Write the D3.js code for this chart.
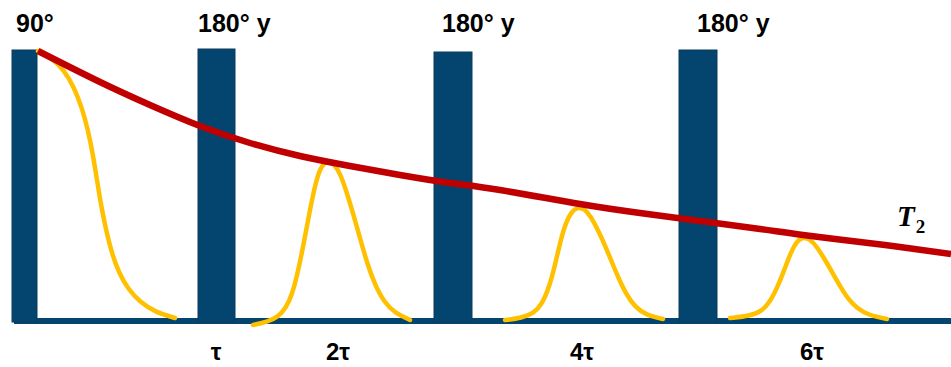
<!DOCTYPE html>
<html>
<head>
<meta charset="utf-8">
<script src="https://cdn.jsdelivr.net/npm/d3@7"></script>
<style>
  html, body { margin: 0; padding: 0; background: #fff; }
  svg { display: block; }
</style>
</head>
<body>
<svg id="chart" width="951" height="367"></svg>
<script>
// ---- Data (time axis in arbitrary units, signal = height above baseline) ----
const pulseLabels = ["90°", "180° y", "180° y", "180° y"];
const pulseStart  = [12, 198, 434, 679];
const pulseEnd    = [37, 235, 472, 717];
const pulseAmp    = [270, 271, 268, 270];
const pulseLabelT = [16, 198, 442, 697];

const echoLabels = ["τ", "2τ", "4τ", "6τ"];
const echoLabelT = [216, 338, 582, 812];

// T2 envelope (time, amplitude)
const t2Time = [38, 100, 150, 200, 250, 300, 350, 400, 450, 500, 580, 640, 700, 760, 803, 860, 900, 951];
const t2Amp  = [269, 238, 215, 194, 177, 164, 154, 145, 137, 130, 116, 107, 99, 91, 85, 78, 73, 66];

// FID after 90° pulse
const fidTime = [38, 52, 64, 74, 82, 88, 93, 97, 101, 106, 112, 119, 128, 140, 155, 175];
const fidAmp  = [269, 262, 250, 233, 212, 190, 165, 140, 115, 90, 66, 47, 31, 18, 8, 2];

// Echoes
const echo2Time = [253, 267, 278, 286, 292, 298, 304, 309, 314, 319, 324, 329, 334, 340, 346, 353, 360, 367, 375, 384, 395, 410];
const echo2Amp  = [-5, -2, 3, 12, 25, 48, 78, 105, 130, 149, 157, 159, 156, 147, 130, 107, 82, 57, 35, 18, 7, 0];
const echo4Time = [505, 522, 534, 542, 549, 555, 560, 565, 571, 578, 585, 591, 597, 604, 611, 618, 626, 635, 646, 663];
const echo4Amp  = [0, 2, 7, 16, 32, 55, 77, 95, 108, 113, 111, 103, 92, 77, 60, 43, 26, 13, 5, 1];
const echo6Time = [730, 750, 762, 770, 778, 785, 791, 797, 803, 810, 817, 824, 832, 840, 848, 857, 868, 887];
const echo6Amp  = [2, 4, 9, 18, 34, 52, 68, 79, 83, 81, 73, 62, 48, 34, 21, 12, 5, 1];

const baselineExtent = [14, 951];

// ---- Drawing ----
const svg = d3.select("#chart");
const x = d3.scaleLinear().domain([0, 951]).range([0, 951]);
const y = d3.scaleLinear().domain([0, 270]).range([320, 50]);

const zip = (t, a) => t.map((v, i) => [v, a[i]]);
const yellowLine = d3.line().x(d => x(d[0])).y(d => y(d[1])).curve(d3.curveBasis);
const redLine = d3.line().x(d => x(d[0])).y(d => y(d[1])).curve(d3.curveNatural);

const blue = "#03456f";

// baseline
svg.append("line")
  .attr("x1", x(baselineExtent[0])).attr("x2", x(baselineExtent[1]))
  .attr("y1", y(0) + 1).attr("y2", y(0) + 1)
  .attr("stroke", blue).attr("stroke-width", 6);

// pulses
svg.selectAll("rect.pulse")
  .data(pulseStart.map((s, i) => ({ s, e: pulseEnd[i], a: pulseAmp[i] })))
  .join("rect")
  .attr("class", "pulse")
  .attr("x", d => x(d.s))
  .attr("width", d => x(d.e) - x(d.s))
  .attr("y", d => y(d.a))
  .attr("height", d => y(0) + 2 - y(d.a))
  .attr("fill", blue)
  .attr("stroke", "#0c3a5c")
  .attr("stroke-width", 1);

// yellow FID + echoes
[zip(fidTime, fidAmp), zip(echo2Time, echo2Amp), zip(echo4Time, echo4Amp), zip(echo6Time, echo6Amp)]
  .forEach(pts => {
    svg.append("path")
      .attr("d", yellowLine(pts))
      .attr("fill", "none")
      .attr("stroke", "#ffc000")
      .attr("stroke-width", 4.5)
      .attr("stroke-linecap", "round");
  });

// T2 envelope
svg.append("path")
  .attr("d", redLine(zip(t2Time, t2Amp)))
  .attr("fill", "none")
  .attr("stroke", "#c00000")
  .attr("stroke-width", 6.5);

// pulse labels
svg.selectAll("text.plabel")
  .data(pulseLabels)
  .join("text")
  .attr("class", "plabel")
  .attr("x", (d, i) => x(pulseLabelT[i]))
  .attr("y", 32)
  .attr("font-family", "'Liberation Sans', Arial, sans-serif")
  .attr("font-weight", "bold")
  .attr("font-size", 25)
  .attr("fill", "#000")
  .text(d => d);

// echo time labels
svg.selectAll("text.elabel")
  .data(echoLabels)
  .join("text")
  .attr("class", "elabel")
  .attr("x", (d, i) => x(echoLabelT[i]))
  .attr("y", 360)
  .attr("text-anchor", "middle")
  .attr("font-family", "'Liberation Sans', Arial, sans-serif")
  .attr("font-weight", "bold")
  .attr("font-size", 24)
  .attr("fill", "#000")
  .text(d => d);

// T2 label
const t2 = svg.append("text")
  .attr("x", 897).attr("y", 226)
  .attr("font-family", "'Liberation Serif', 'Times New Roman', serif")
  .attr("font-weight", "bold")
  .attr("fill", "#000");
t2.append("tspan").attr("font-style", "italic").attr("font-size", 29).text("T");
t2.append("tspan").attr("font-size", 19).attr("dx", 1).attr("dy", 7).text("2");
</script>
</body>
</html>
